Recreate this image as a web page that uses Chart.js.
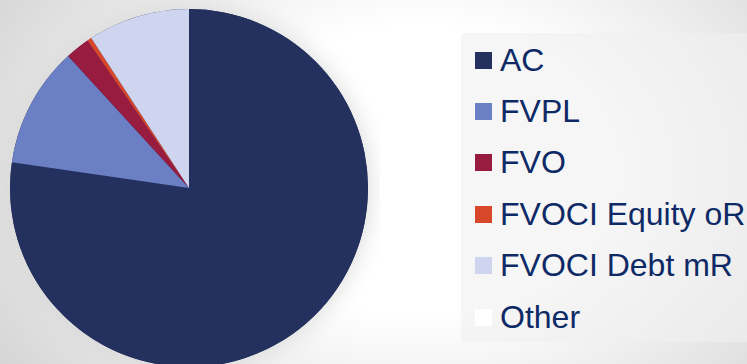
<!DOCTYPE html>
<html>
<head>
<meta charset="utf-8">
<script src="https://cdn.jsdelivr.net/npm/chart.js@4.4.0/dist/chart.umd.min.js"></script>
<style>
  html, body { margin: 0; padding: 0; }
  body {
    width: 747px; height: 364px; overflow: hidden; position: relative;
    background: radial-gradient(ellipse 540px 400px at 420px 170px, #ffffff 0%, #ffffff 36%, #cfcfcf 100%);
    font-family: 'Liberation Sans', Arial, sans-serif;
  }
  #pieWrap { position: absolute; left: 0; top: 0; width: 380px; height: 380px; }
  #legend {
    position: absolute; left: 461px; top: 33px; width: 286px; height: 309px;
    background: rgba(240, 240, 240, 0.6);
  }
  .item {
    position: absolute; left: 14px; height: 36px;
    display: flex; align-items: center;
    font-size: 32px; color: #0e2a66; white-space: nowrap;
  }
  .box { width: 17px; height: 17px; margin-right: 8px; flex: none; }
</style>
</head>
<body>
<div id="pieWrap"><canvas id="portfolioChart"></canvas></div>
<div id="legend"></div>
<script>
// Portfolio split by measurement category (share in %)
const categories = ['AC', 'FVPL', 'FVO', 'FVOCI Equity oR', 'FVOCI Debt mR', 'Other'];
const shares = [77.3, 10.9, 2.2, 0.4, 9.2, 0];
const sliceColors = ['#24305e', '#6b7fc4', '#981b40', '#d9472a', '#cfd5ee', '#ffffff'];

// Soft halo behind the whole pie (drawn once, so slices don't shade each other)
const pieShadow = {
  id: 'pieShadow',
  beforeDatasetsDraw(chart) {
    const arc = chart.getDatasetMeta(0).data[0];
    if (!arc) return;
    const ctx = chart.ctx;
    ctx.save();
    ctx.shadowColor = 'rgba(215, 215, 215, 1)';
    ctx.shadowBlur = 24;
    ctx.fillStyle = sliceColors[0];
    ctx.beginPath();
    ctx.arc(arc.x, arc.y, arc.outerRadius, 0, Math.PI * 2);
    ctx.fill();
    ctx.restore();
  }
};

new Chart(document.getElementById('portfolioChart'), {
  type: 'pie',
  data: {
    labels: categories,
    datasets: [{
      data: shares,
      backgroundColor: sliceColors,
      borderWidth: 0
    }]
  },
  options: {
    responsive: true,
    maintainAspectRatio: false,
    animation: false,
    layout: { padding: { left: 10, top: 9, right: 12, bottom: 13 } },
    plugins: {
      legend: { display: false },
      tooltip: { enabled: false }
    }
  },
  plugins: [pieShadow]
});

// Legend list on the right
const legendEl = document.getElementById('legend');
const rowGap = 51.4;
categories.forEach((name, i) => {
  const item = document.createElement('div');
  item.className = 'item';
  item.style.top = (60 + i * rowGap - 33 - 18) + 'px';
  const box = document.createElement('span');
  box.className = 'box';
  box.style.background = sliceColors[i];
  const label = document.createElement('span');
  label.textContent = name;
  item.appendChild(box);
  item.appendChild(label);
  legendEl.appendChild(item);
});
</script>
</body>
</html>
